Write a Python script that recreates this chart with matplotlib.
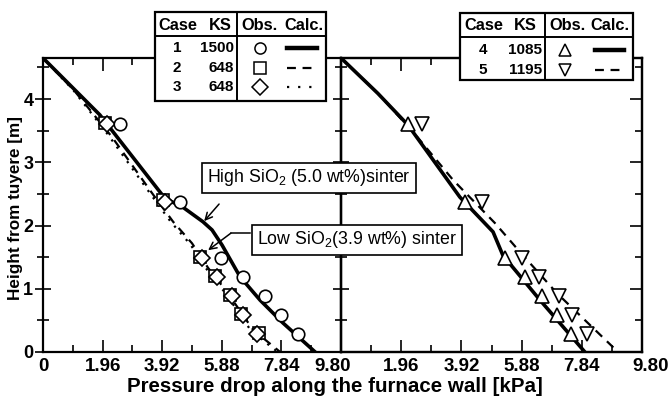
import matplotlib
matplotlib.use("Agg")
import matplotlib.pyplot as plt
import matplotlib.transforms as mtransforms
from matplotlib.patches import Rectangle
from matplotlib.lines import Line2D
from matplotlib.ticker import MultipleLocator

plt.rcParams['font.family'] = ['Liberation Sans', 'DejaVu Sans']
plt.rcParams['mathtext.fontset'] = 'custom'
plt.rcParams['mathtext.rm'] = 'Liberation Sans'

# ---------------- data ----------------
xticks = [0, 1.96, 3.92, 5.88, 7.84, 9.80]
left_xlabels = ['0', '1.96', '3.92', '5.88', '7.84', '9.80']
right_xlabels = ['', '1.96', '3.92', '5.88', '7.84', '9.80']
yticks = [0, 1, 2, 3, 4]

obs_h = [3.6, 2.37, 1.48, 1.18, 0.88, 0.58, 0.28]

# Case 1 (KS 1500)
c1_obs_x = [2.53, 4.51, 5.84, 6.58, 7.30, 7.83, 8.37]
c1_calc_x = [0, 1.87, 4.01, 4.60, 5.26, 5.56, 5.89, 6.48, 7.14, 7.89, 8.95]
c1_calc_y = [4.65, 3.75, 2.43, 2.29, 2.06, 1.93, 1.69, 1.19, 0.82, 0.46, 0.0]
# Case 2 (KS 648)
c2_obs_x = [2.05, 3.95, 5.15, 5.64, 6.14, 6.52, 7.10]
c2_obs_y = [3.62, 2.40, 1.50, 1.20, 0.90, 0.60, 0.30]
c2_calc_x = [0, 1.0, 2.27, 3.68, 4.28, 4.90, 5.43, 6.05, 6.91, 7.80]
c2_calc_y = [4.65, 4.15, 3.40, 2.45, 2.06, 1.72, 1.33, 0.95, 0.35, 0.0]
# Case 3 (KS 648)
c3_obs_x = [2.10, 4.01, 5.23, 5.72, 6.22, 6.58, 7.04]
c3_calc_x = [0, 1.0, 2.15, 3.58, 4.20, 4.85, 5.35, 6.00, 6.85, 7.72]
c3_calc_y = [4.65, 4.14, 3.43, 2.47, 2.06, 1.70, 1.33, 0.93, 0.33, 0.0]
# Case 4 (KS 1085)
c4_obs_x = [2.18, 4.04, 5.34, 5.99, 6.54, 7.03, 7.49]
c4_calc_x = [0, 1.20, 2.18, 3.87, 4.95, 5.27, 6.48, 7.94]
c4_calc_y = [4.65, 4.09, 3.59, 2.45, 1.90, 1.53, 0.82, 0.0]
# Case 5 (KS 1195)
c5_obs_x = [2.64, 4.59, 5.89, 6.45, 7.10, 7.52, 8.01]
c5_calc_x = [0, 1.20, 2.40, 3.65, 5.01, 5.83, 7.03, 9.02]
c5_calc_y = [4.65, 4.09, 3.45, 2.72, 2.04, 1.58, 0.93, 0.0]

left_cases = ['1', '2', '3']
left_ks = ['1500', '648', '648']
right_cases = ['4', '5']
right_ks = ['1085', '1195']

# ---------------- figure ----------------
W, H = 672, 401
fig = plt.figure(figsize=(W / 100, H / 100), dpi=100)

def fx(px):
    return px / W

def fy(py):
    return 1 - py / H

ax_l0, ax_mid, ax_r1 = 43, 341, 642
ax_top, ax_bot = 58, 352
ax1 = fig.add_axes([fx(ax_l0), fy(ax_bot), fx(ax_mid) - fx(ax_l0), fy(ax_top) - fy(ax_bot)])
ax2 = fig.add_axes([fx(ax_mid), fy(ax_bot), fx(ax_r1) - fx(ax_mid), fy(ax_top) - fy(ax_bot)])

mk = dict(markersize=9, markerfacecolor='white', markeredgecolor='black',
          markeredgewidth=1.2, linestyle='none', zorder=5)

# left panel
ax1.plot(c1_calc_x, c1_calc_y, color='black', lw=2.6, zorder=3)
ax1.plot(c2_calc_x, c2_calc_y, color='black', lw=1.6, linestyle=(0, (4, 3)), zorder=3)
ax1.plot(c3_calc_x, c3_calc_y, color='black', lw=1.6, linestyle=(0, (1, 3)), zorder=3)
ax1.plot(c2_obs_x, c2_obs_y, marker='s', **mk)
ax1.plot(c3_obs_x, obs_h, marker='D', **{**mk, 'markersize': 8.5})
ax1.plot(c1_obs_x, obs_h, marker='o', **mk)

# right panel
ax2.patch.set_alpha(0)
ax2.plot(c4_calc_x, c4_calc_y, color='black', lw=2.6, zorder=3)
ax2.plot(c5_calc_x, c5_calc_y, color='black', lw=1.6, linestyle=(0, (4, 3)), zorder=3)
ax2.plot(c4_obs_x, obs_h, marker='^', **{**mk, 'markersize': 10})
ax2.plot(c5_obs_x, obs_h, marker='v', **{**mk, 'markersize': 10})

for ax in (ax1, ax2):
    ax.set_xlim(0, 9.8)
    ax.set_ylim(0, 4.65)
    ax.set_xticks(xticks)
    ax.xaxis.set_minor_locator(MultipleLocator(0.98))
    ax.set_yticks(yticks)
    ax.yaxis.set_minor_locator(MultipleLocator(0.5))
    for s in ax.spines.values():
        s.set_linewidth(1.6)
    ax.tick_params(axis='x', which='both', direction='in', top=True, width=1.2,
                   labelsize=13.5, pad=4)
    ax.tick_params(axis='x', which='major', length=9)
    ax.tick_params(axis='x', which='minor', length=5)

ax1.set_xticklabels(left_xlabels, fontweight='bold')
ax2.set_xticklabels(right_xlabels, fontweight='bold')

# shift the two "9.80" labels slightly as in the original
lab_l = ax1.get_xticklabels()[-1]
lab_l.set_transform(lab_l.get_transform() + mtransforms.ScaledTranslation(-8 / 100, 0, fig.dpi_scale_trans))
lab_r = ax2.get_xticklabels()[-1]
lab_r.set_transform(lab_r.get_transform() + mtransforms.ScaledTranslation(9 / 100, 0, fig.dpi_scale_trans))

ax1.tick_params(axis='y', which='both', direction='inout', left=True, right=False,
                width=1.2, labelsize=13, pad=1)
ax1.tick_params(axis='y', which='major', length=12)
ax1.tick_params(axis='y', which='minor', length=9)
ax1.set_yticklabels([str(v) for v in yticks], fontweight='bold')

ax2.tick_params(axis='y', which='both', direction='inout', left=True, right=False,
                labelleft=False, width=1.2)
ax2.tick_params(axis='y', which='major', length=12)
ax2.tick_params(axis='y', which='minor', length=9)
# inward ticks on right spine of right panel
ax2r = ax2.twinx()
ax2r.set_ylim(0, 4.65)
ax2r.set_yticks(yticks)
ax2r.yaxis.set_minor_locator(MultipleLocator(0.5))
ax2r.tick_params(axis='y', which='both', direction='in', labelright=False, width=1.2)
ax2r.tick_params(axis='y', which='major', length=9)
ax2r.tick_params(axis='y', which='minor', length=5)
for s in ax2r.spines.values():
    s.set_linewidth(1.6)

fig.text(fx(16), fy(208), 'Height from tuyere [m]', rotation=90, ha='center', va='center',
         fontsize=12.3, fontweight='bold')
fig.text(fx(335), fy(386), 'Pressure drop along the furnace wall [kPa]', ha='center',
         va='center', fontsize=14.8, fontweight='bold')

# annotations
fig.text(fx(309), fy(178), r'High SiO$_\mathregular{2}$ (5.0 wt%)sinter', ha='center',
         va='center', fontsize=12.8,
         bbox=dict(boxstyle='square,pad=0.28', facecolor='white', edgecolor='black', lw=1.2))
fig.text(fx(357), fy(240), r'Low SiO$_\mathregular{2}$(3.9 wt%) sinter', ha='center',
         va='center', fontsize=12.8,
         bbox=dict(boxstyle='square,pad=0.28', facecolor='white', edgecolor='black', lw=1.2))

aprops = dict(arrowstyle='->,head_length=0.5,head_width=0.25', color='black', lw=1.1,
              shrinkA=0, shrinkB=0)
ax1.annotate('', xy=(5.30, 2.07), xytext=(5.79, 2.34), arrowprops=aprops, zorder=6)
ax1.plot([6.81, 6.18], [1.88, 1.88], color='black', lw=1.1, zorder=6)
ax1.annotate('', xy=(5.43, 1.61), xytext=(6.18, 1.88), arrowprops=aprops, zorder=6)

# ---------------- legend tables ----------------
def table(x0, x1, y0, y1, ydiv, xdiv):
    fig.add_artist(Rectangle((fx(x0), fy(y1)), fx(x1) - fx(x0), fy(y0) - fy(y1),
                             transform=fig.transFigure, facecolor='white',
                             edgecolor='black', lw=1.6, zorder=10))
    fig.add_artist(Line2D([fx(x0), fx(x1)], [fy(ydiv), fy(ydiv)], transform=fig.transFigure,
                          color='black', lw=1.4, zorder=11))
    fig.add_artist(Line2D([fx(xdiv), fx(xdiv)], [fy(y0), fy(y1)], transform=fig.transFigure,
                          color='black', lw=1.4, zorder=11))

def ttext(px, py, s, ha='center', size=11):
    fig.text(fx(px), fy(py), s, ha=ha, va='center', fontsize=size, fontweight='bold',
             zorder=12)

# left table
table(155, 326, 12, 101, 36, 237)
ttext(178, 25, 'Case', size=11.8)
ttext(220, 25, 'KS', size=11.8)
ttext(260, 25, 'Obs.', size=11.8)
ttext(304, 25, 'Calc.', size=11.8)
left_markers = ['o', 's', 'D']
left_styles = ['-', (0, (4, 3)), (0, (1, 4))]
left_lw = [3.2, 1.6, 1.6]
for i, (c, k) in enumerate(zip(left_cases, left_ks)):
    yy = 48 + i * 19.5
    ttext(177, yy, c)
    ttext(234, yy, k, ha='right')
    fig.add_artist(Line2D([fx(260)], [fy(yy)], transform=fig.transFigure, marker=left_markers[i],
                          markersize=8, markerfacecolor='white',
                          markeredgecolor='black', markeredgewidth=1.1, zorder=12))
    fig.add_artist(Line2D([fx(287), fx(317)], [fy(yy), fy(yy)], transform=fig.transFigure,
                          color='black', lw=left_lw[i], linestyle=left_styles[i], zorder=12))

# right table
table(460, 633, 13, 80, 37, 545)
ttext(484, 26, 'Case', size=11.8)
ttext(525, 26, 'KS', size=11.8)
ttext(567, 26, 'Obs.', size=11.8)
ttext(610, 26, 'Calc.', size=11.8)
right_markers = ['^', 'v']
right_styles = ['-', (0, (4, 3))]
right_lw = [3.2, 1.6]
for i, (c, k) in enumerate(zip(right_cases, right_ks)):
    yy = 50 + i * 19.5
    ttext(483, yy, c)
    ttext(542, yy, k, ha='right')
    fig.add_artist(Line2D([fx(565)], [fy(yy)], transform=fig.transFigure, marker=right_markers[i],
                          markersize=8.5, markerfacecolor='white',
                          markeredgecolor='black', markeredgewidth=1.1, zorder=12))
    fig.add_artist(Line2D([fx(595), fx(624)], [fy(yy), fy(yy)], transform=fig.transFigure,
                          color='black', lw=right_lw[i], linestyle=right_styles[i], zorder=12))

fig.savefig('out.png', dpi=100)
